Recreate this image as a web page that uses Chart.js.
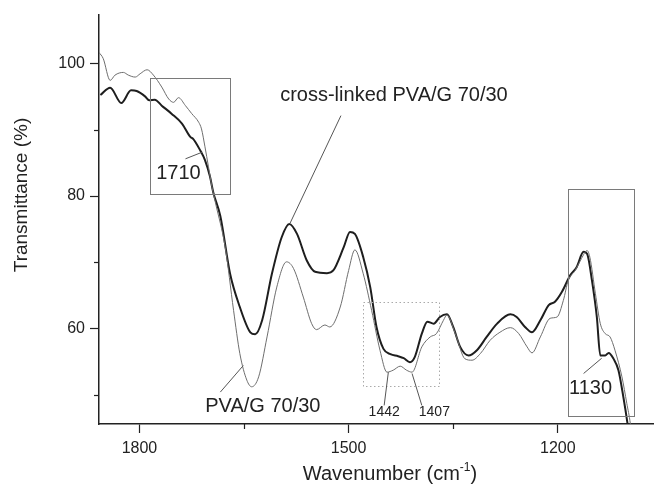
<!DOCTYPE html>
<html>
<head>
<meta charset="utf-8">
<script src="https://cdn.jsdelivr.net/npm/chart.js@4.4.0/dist/chart.umd.min.js"></script>
<style>
  html, body { margin: 0; padding: 0; background: #fff; }
  #wrap { width: 654px; height: 488px; }
</style>
</head>
<body>
<div id="wrap"><canvas id="ftir" width="654" height="488"></canvas></div>
<script>
// cross-linked PVA/G 70/30 (thick dark trace)
const crossWn = [1856,1842,1826,1812,1804,1792,1786,1778,1768,1754,1739,1727,1723,1713,1706,1699,1694,1684,1670,1656,1641,1634,1624,1610,1596,1585,1574,1560,1548,1531,1522,1507,1498,1491,1479,1469,1460,1450,1440,1429,1421,1412,1405,1395,1387,1378,1369,1359,1350,1340,1328,1316,1302,1287,1268,1259,1247,1237,1225,1213,1204,1194,1182,1173,1163,1158,1151,1144,1139,1132,1127,1120,1113,1106,1100,1090];
const crossT = [95.2,96.3,94.0,95.9,95.8,95.0,94.4,94.5,93.6,92.4,90.9,88.9,88.6,86.9,85.4,83.0,80.5,77.0,68.3,63.3,59.5,59.2,61.3,68.3,73.8,75.8,74.3,70.3,68.6,68.4,68.8,72.3,74.6,74.3,70.8,66.3,60.3,57.0,56.2,55.9,55.6,55.0,55.8,59.3,61.1,60.8,61.8,62.2,60.3,57.3,56.0,56.8,58.8,60.8,62.2,61.8,60.3,59.5,61.3,63.6,64.1,65.6,68.1,69.3,71.6,71.3,67.3,61.8,56.0,56.0,56.4,55.5,53.8,49.8,45.8,38.0];

// PVA/G 70/30 (thin grey trace)
const pvaWn = [1858,1852,1842,1835,1823,1816,1806,1799,1789,1780,1768,1758,1751,1744,1734,1725,1715,1711,1706,1701,1696,1691,1677,1665,1656,1646,1639,1629,1617,1603,1589,1579,1565,1553,1546,1534,1527,1512,1500,1491,1479,1467,1455,1445,1436,1426,1417,1409,1395,1383,1374,1364,1359,1347,1333,1323,1311,1297,1283,1268,1256,1244,1237,1225,1211,1201,1192,1185,1175,1166,1158,1154,1146,1139,1132,1125,1118,1108,1101,1096,1088];
const pvaT = [101.6,100.7,97.4,98.2,98.6,98.2,97.9,98.4,99.0,98.2,96.4,94.6,94.1,94.8,93.6,92.4,91.1,90.1,87.4,84.4,81.4,79.0,72.3,62.8,56.3,52.3,51.3,52.8,58.8,66.3,70.1,69.1,64.8,60.8,59.9,60.6,60.3,63.3,68.8,71.9,68.3,62.8,56.8,53.5,53.8,54.4,53.8,53.5,57.3,58.8,59.3,61.3,62.1,59.3,55.5,55.3,56.3,58.3,59.5,60.2,59.3,57.3,56.4,58.8,61.6,61.8,64.3,67.3,68.8,70.6,71.8,70.8,65.3,60.8,59.3,58.8,56.8,52.8,48.8,45.8,38.0];

const xMajor = [1800, 1500, 1200];
const yMajor = [60, 80, 100];

// boxes: [wnLeft, wnRight, tTop, tBottom, dotted]
const boxes = [
  [1785, 1670, 97.7, 80.2, false],
  [1479, 1370, 64.0, 51.3, true],
  [1186, 1092, 81.1, 47.0, false]
];
// labels: [text, wn, T, size]
const labels = [
  ['cross-linked PVA/G 70/30', 1435, 95.1, 20],
  ['1710', 1744, 83.4, 20],
  ['PVA/G 70/30', 1623, 48.4, 20],
  ['1442', 1449, 47.5, 14],
  ['1407', 1377, 47.5, 14],
  ['1130', 1153, 51.0, 20]
];
// leader lines: [wn1, T1, wn2, T2]
const leaders = [
  [1511, 92.1, 1584, 75.9],
  [1734, 85.6, 1710, 86.6],
  [1684, 50.5, 1651, 54.5],
  [1449, 48.5, 1443, 53.5],
  [1395, 48.5, 1409, 53.3],
  [1163, 53.3, 1137, 55.6]
];

const toPts = (xs, ys) => xs.map((x, i) => ({ x: x, y: ys[i] }));
const FONT = '"Liberation Sans", Arial, sans-serif';
const INK = '#222';

const annotations = {
  id: 'annotations',
  afterDatasetsDraw(chart) {
    const { ctx, scales: { x, y } } = chart;
    ctx.save();
    ctx.lineWidth = 1;
    boxes.forEach(b => {
      const x1 = x.getPixelForValue(b[0]), x2 = x.getPixelForValue(b[1]);
      const y1 = y.getPixelForValue(b[2]), y2 = y.getPixelForValue(b[3]);
      ctx.strokeStyle = b[4] ? '#aaa' : '#7a7a7a';
      ctx.setLineDash(b[4] ? [1.5, 2.5] : []);
      ctx.strokeRect(Math.round(x1) + 0.5, Math.round(y1) + 0.5, Math.round(x2 - x1), Math.round(y2 - y1));
    });
    ctx.setLineDash([]);
    ctx.strokeStyle = '#555';
    leaders.forEach(l => {
      ctx.beginPath();
      ctx.moveTo(x.getPixelForValue(l[0]), y.getPixelForValue(l[1]));
      ctx.lineTo(x.getPixelForValue(l[2]), y.getPixelForValue(l[3]));
      ctx.stroke();
    });
    ctx.fillStyle = INK;
    ctx.textAlign = 'center';
    ctx.textBaseline = 'middle';
    labels.forEach(t => {
      ctx.font = t[3] + 'px ' + FONT;
      ctx.fillText(t[0], x.getPixelForValue(t[1]), y.getPixelForValue(t[2]));
    });
    ctx.restore();
  },
  afterDraw(chart) {
    const { ctx, chartArea } = chart;
    ctx.save();
    ctx.fillStyle = INK;
    // minor ticks
    ctx.strokeStyle = INK;
    ctx.lineWidth = 1.2;
    const { x, y } = chart.scales;
    [50, 70, 90].forEach(v => {
      const py = Math.round(y.getPixelForValue(v)) + 0.5;
      ctx.beginPath(); ctx.moveTo(chartArea.left - 5, py); ctx.lineTo(chartArea.left, py); ctx.stroke();
    });
    [1650, 1350].forEach(v => {
      const px = Math.round(x.getPixelForValue(v)) + 0.5;
      ctx.beginPath(); ctx.moveTo(px, chartArea.bottom); ctx.lineTo(px, chartArea.bottom + 5); ctx.stroke();
    });
    // y axis title
    ctx.save();
    ctx.translate(22, 195);
    ctx.rotate(-Math.PI / 2);
    ctx.font = '19px ' + FONT;
    ctx.textAlign = 'center';
    ctx.textBaseline = 'middle';
    ctx.fillText('Transmittance (%)', 0, 0);
    ctx.restore();
    // x axis title with superscript
    ctx.textBaseline = 'alphabetic';
    ctx.textAlign = 'left';
    const main = 'Wavenumber (cm', sup = '-1', end = ')';
    ctx.font = '20px ' + FONT;
    const w1 = ctx.measureText(main).width, w3 = ctx.measureText(end).width;
    ctx.font = '12px ' + FONT;
    const w2 = ctx.measureText(sup).width;
    let sx = 390 - (w1 + w2 + w3) / 2;
    const base = 480;
    ctx.font = '20px ' + FONT;
    ctx.fillText(main, sx, base);
    ctx.font = '12px ' + FONT;
    ctx.fillText(sup, sx + w1, base - 9);
    ctx.font = '20px ' + FONT;
    ctx.fillText(end, sx + w1 + w2, base);
    ctx.restore();
  }
};

new Chart(document.getElementById('ftir'), {
  type: 'line',
  data: {
    datasets: [
      {
        label: 'PVA/G 70/30',
        data: toPts(pvaWn, pvaT),
        borderColor: '#6e6e6e',
        borderWidth: 1,
        pointRadius: 0,
        cubicInterpolationMode: 'monotone',
        fill: false
      },
      {
        label: 'cross-linked PVA/G 70/30',
        data: toPts(crossWn, crossT),
        borderColor: '#1e1e1e',
        borderWidth: 2,
        pointRadius: 0,
        cubicInterpolationMode: 'monotone',
        fill: false
      }
    ]
  },
  options: {
    responsive: false,
    animation: false,
    devicePixelRatio: 1,
    layout: { padding: { top: 14, left: 0, right: 0, bottom: 0 } },
    plugins: { legend: { display: false }, tooltip: { enabled: false } },
    scales: {
      x: {
        type: 'linear',
        reverse: true,
        min: 1062,
        max: 1858,
        afterFit: s => { s.height = 64; },
        border: { display: true, color: INK, width: 1.5 },
        grid: { drawOnChartArea: false, tickLength: 9, tickWidth: 1.2, tickColor: INK },
        afterBuildTicks: s => { s.ticks = xMajor.map(v => ({ value: v })); },
        ticks: {
          color: INK,
          padding: 6,
          maxRotation: 0,
          font: { size: 16, family: FONT },
          callback: v => String(v)
        },
        title: { display: false }
      },
      y: {
        type: 'linear',
        min: 45.7,
        max: 107.3,
        afterFit: s => { s.width = 99; },
        border: { display: true, color: INK, width: 1.5 },
        grid: { drawOnChartArea: false, tickLength: 9, tickWidth: 1.2, tickColor: INK },
        afterBuildTicks: s => { s.ticks = yMajor.map(v => ({ value: v })); },
        ticks: {
          color: INK,
          padding: 5,
          font: { size: 16, family: FONT },
          callback: v => String(v)
        },
        title: { display: false }
      }
    }
  },
  plugins: [annotations]
});
</script>
</body>
</html>
